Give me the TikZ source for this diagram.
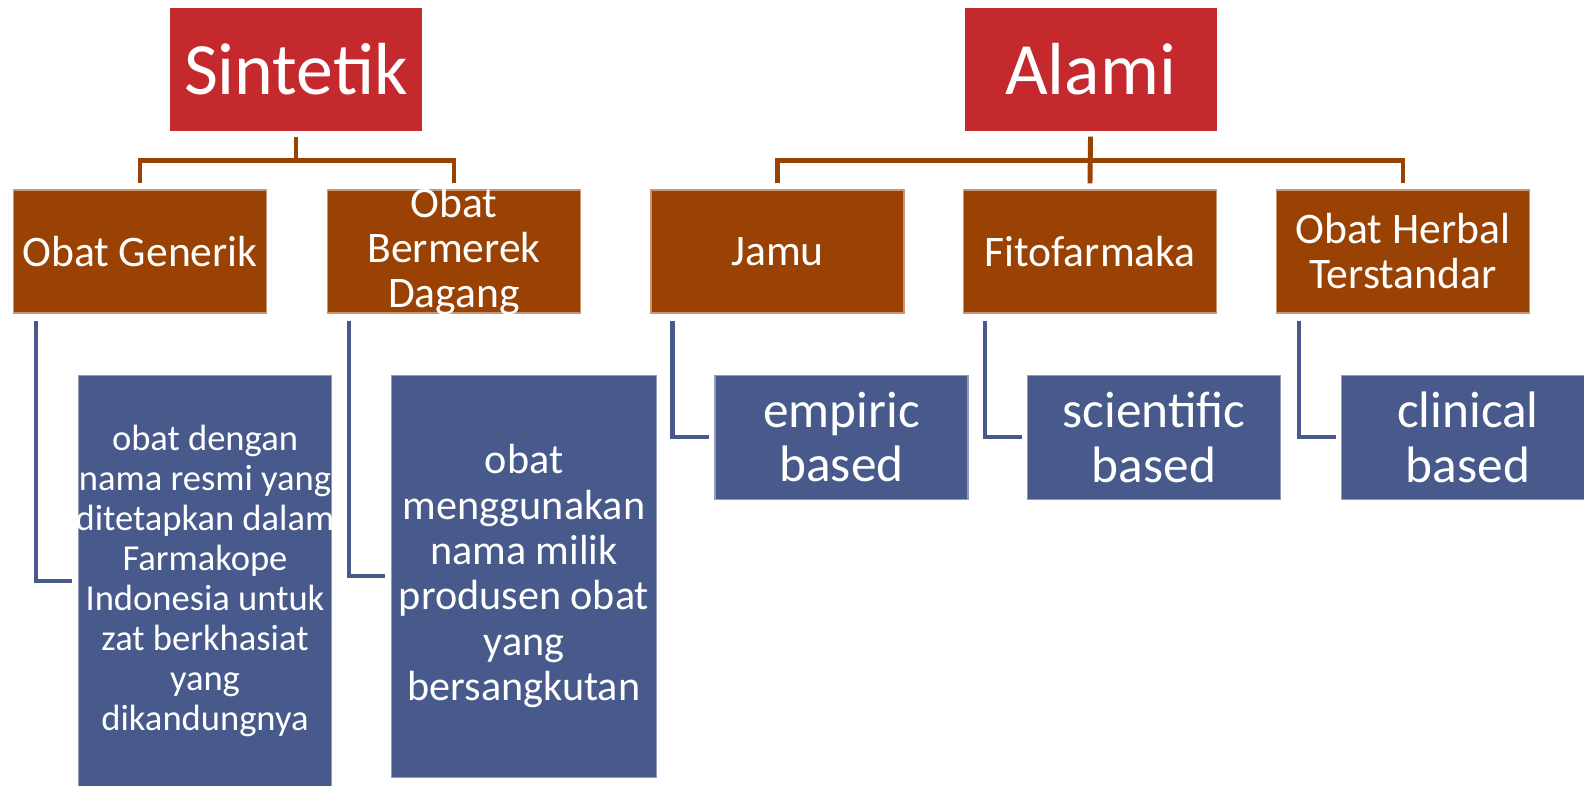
\documentclass[tikz,border=0pt]{standalone}
\usepackage{fontspec}
\setmainfont{Carlito}
\usetikzlibrary{positioning}
\definecolor{topred}{RGB}{196,41,46}
\definecolor{midbrown}{RGB}{153,66,4}
\definecolor{leafblue}{RGB}{71,90,139}
\tikzset{
  topbox/.style={fill=topred, text=white, inner sep=0pt, minimum width=2.52cm, minimum height=1.23cm, align=center, font=\fontsize{21}{25}\selectfont},
  midbox/.style={fill=midbrown, draw=midbrown!55!white, line width=0.3pt, text=white, inner sep=0pt, minimum width=2.53cm, minimum height=1.23cm, align=center, font=\fontsize{12.4}{12.8}\selectfont},
  leafbox/.style={fill=leafblue, draw=leafblue!60!white, line width=0.3pt, text=white, inner sep=0pt, minimum width=2.53cm, minimum height=1.24cm, align=center, anchor=north west, font=\fontsize{14.6}{15.6}\selectfont},
  tree/.style={draw=midbrown, line width=1.4pt},
  elbow/.style={draw=leafblue, line width=1.3pt}
}
\begin{document}
\begin{tikzpicture}
  \useasboundingbox (0,0) rectangle (15.84,-7.86);
  % top level
  \node[topbox] (sin) at (2.96,-0.695) {Sintetik};
  \node[topbox, right of=sin, node distance=7.945cm] (ala) {Alami};
  % second level
  \node[midbox] (gen) at (1.40,-2.515) {Obat Generik};
  \node[midbox, inner ysep=-0.15cm, right of=gen, node distance=3.14cm] (mer) {Obat\\Bermerek\\Dagang};
  \node[midbox] (jamu) at (7.775,-2.515) {Jamu};
  \node[midbox, right of=jamu, node distance=3.125cm] (fito) {Fitofarmaka};
  \node[midbox, right of=fito, node distance=3.13cm] (ohs) {Obat Herbal\\Terstandar};
  % third level
  \node[leafbox, inner xsep=-0.1cm, minimum height=4.12cm, font=\fontsize{10.4}{11.4}\selectfont] (gendef) at ([xshift=0.65cm, yshift=-0.61cm]gen.south west)
    {obat dengan\\nama resmi yang\\ditetapkan dalam\\Farmakope\\Indonesia untuk\\zat berkhasiat\\yang\\dikandungnya};
  \node[leafbox, inner xsep=-0.05cm, minimum width=2.65cm, minimum height=4.02cm, font=\fontsize{12}{12.9}\selectfont] (merdef) at ([xshift=0.64cm, yshift=-0.61cm]mer.south west)
    {obat\\menggunakan\\nama milik\\produsen obat\\yang\\bersangkutan};
  \node[leafbox] (emp) at ([xshift=0.64cm, yshift=-0.61cm]jamu.south west) {empiric\\based};
  \node[leafbox] (sci) at ([xshift=0.64cm, yshift=-0.61cm]fito.south west) {scientific\\based};
  \node[leafbox] (cli) at ([xshift=0.65cm, yshift=-0.61cm]ohs.south west) {clinical\\based};
  % brown tree lines
  \coordinate[below of=sin, node distance=0.91cm] (sinbar);
  \coordinate[below of=ala, node distance=0.91cm] (alabar);
  \draw[tree] ([yshift=-0.05cm]sin.south) -- (sinbar);
  \draw[tree] ([yshift=0.06cm]gen.north) |- (sinbar) -| ([yshift=0.06cm]mer.north);
  \draw[tree] ([yshift=-0.05cm]ala.south) -- ([yshift=0.06cm]fito.north);
  \draw[tree] ([yshift=0.06cm]jamu.north) |- (alabar) -| ([yshift=0.06cm]ohs.north);
  % blue elbows
  \draw[elbow] ([xshift=0.23cm, yshift=-0.07cm]gen.south west) |- ([xshift=-0.06cm]gendef.west);
  \draw[elbow] ([xshift=0.22cm, yshift=-0.07cm]mer.south west) |- ([xshift=-0.06cm]merdef.west);
  \draw[elbow] ([xshift=0.22cm, yshift=-0.07cm]jamu.south west) |- ([xshift=-0.05cm]emp.west);
  \draw[elbow] ([xshift=0.22cm, yshift=-0.07cm]fito.south west) |- ([xshift=-0.05cm]sci.west);
  \draw[elbow] ([xshift=0.23cm, yshift=-0.07cm]ohs.south west) |- ([xshift=-0.05cm]cli.west);
\end{tikzpicture}
\end{document}
